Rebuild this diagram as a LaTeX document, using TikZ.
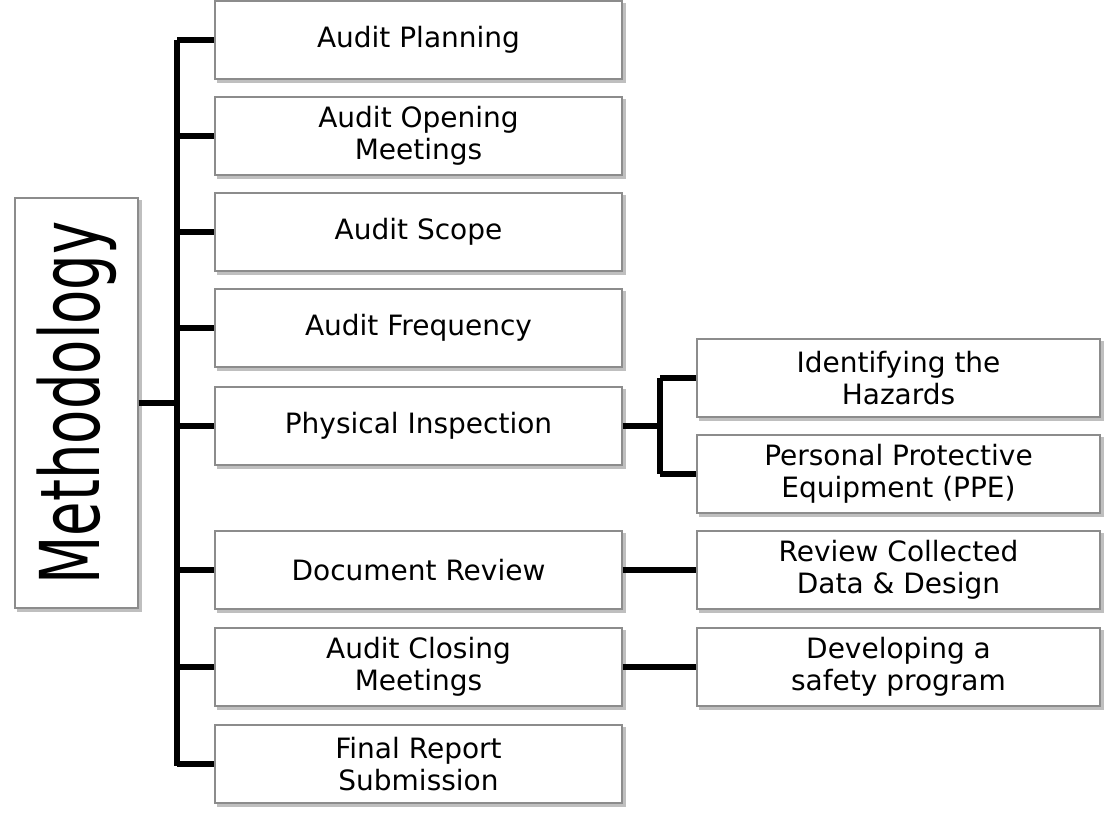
\documentclass[tikz,border=0pt]{standalone}
\usepackage{fontspec}
\setmainfont{DejaVu Sans}
\begin{document}
\begin{tikzpicture}[x=1pt,y=-1pt,
 bx/.style={draw=black!45,line width=1.4pt,fill=white,minimum width=407pt,minimum height=78pt,align=center,font=\fontsize{28}{32}\selectfont,inner sep=0pt,
   preaction={draw=black!25,fill=black!25,transform canvas={shift={(3pt,-3pt)}}}},
 rb/.style={bx,minimum width=403pt},
 ln/.style={line width=6pt}]
\useasboundingbox (0,0) rectangle (1114,818);
\node[bx,minimum width=123pt,minimum height=410pt] (m) at (76.5,403) {\rotatebox{90}{\scalebox{0.85}[1.25]{\fontsize{66}{70}\selectfont Methodology}}};
\coordinate (top) at (177,40); \coordinate (bot) at (177,766);
\draw[ln] (top)--(bot);
\draw[ln] (m.east)--(m.east-|top);
\foreach \n/\y/\t in {a/40/Audit Planning,b/136/Audit Opening\\Meetings,c/232/Audit Scope,d/328/Audit Frequency,e/426/Physical Inspection,f/570/Document Review,g/667/Audit Closing\\Meetings,h/764/Final Report\\Submission}{
 \node[bx] (\n) at (418.5,\y) {\t};
 \coordinate (j\n) at (177,\y);
 \draw[ln] (j\n)--(\n.west);
}
\node[rb] (i) at (898.5,378) {Identifying the\\Hazards};
\node[rb] (p) at (898.5,474) {Personal Protective\\Equipment (PPE)};
\node[rb] (r) at (898.5,570) {Review Collected\\Data \& Design};
\node[rb] (s) at (898.5,667) {Developing a\\safety program};
\coordinate (k1) at (660,378); \coordinate (k2) at (660,474);
\draw[ln] (e.east)--(e.east-|k1);
\draw[ln] (k1)--(k2);
\draw[ln] (k1)--(i.west); \draw[ln] (k2)--(p.west);
\draw[ln] (f.east)--(r.west);
\draw[ln] (g.east)--(s.west);
\end{tikzpicture}
\end{document}
